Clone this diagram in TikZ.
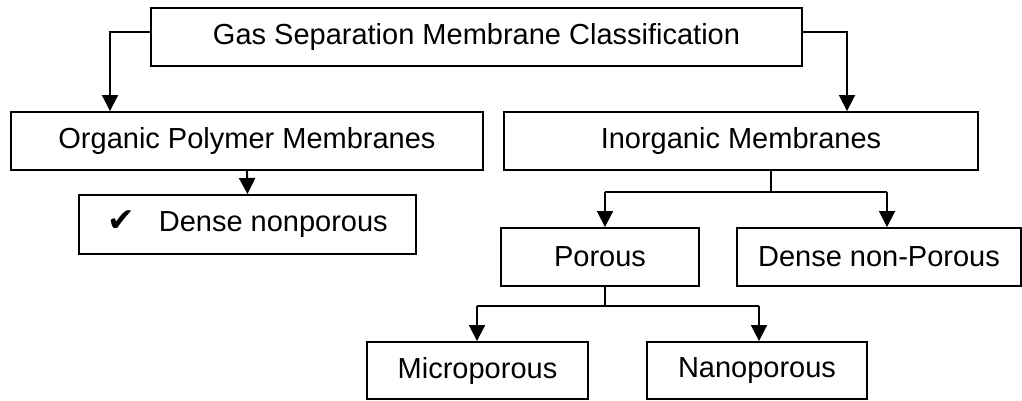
\documentclass[tikz,border=0pt]{standalone}
\usepackage{fontspec}
\setmainfont{Liberation Sans}
\newfontfamily\symfont{DejaVu Sans}
\usetikzlibrary{arrows.meta}
\begin{document}
\begin{tikzpicture}[x=1pt,y=-1pt,
  box/.style={draw,line width=1.9pt,inner sep=0pt,font=\fontsize{29}{34}\selectfont},
  conn/.style={line width=1.9pt},
  arr/.style={conn,-{Triangle[width=16pt,length=16pt]}}]
\useasboundingbox (0,0) rectangle (1022,401);
\node[box,minimum width=651pt,minimum height=58pt] (top) at (476.5,37) {Gas Separation Membrane Classification};
\node[box,minimum width=472pt,minimum height=58pt] (org) at (247,141) {Organic Polymer Membranes};
\node[box,minimum width=474pt,minimum height=58pt] (inorg) at (741,141) {Inorganic Membranes};
\node[box,minimum width=337pt,minimum height=59pt] (dense) at (247.5,224.5) {{\symfont\fontsize{33}{34}\selectfont ✔}\hspace{24pt}Dense nonporous};
\node[box,minimum width=198pt,minimum height=58pt] (porous) at (600,257) {Porous};
\node[box,minimum width=284pt,minimum height=58pt] (dnp) at (879,257) {Dense non-Porous};
\node[box,minimum width=221pt,minimum height=57pt] (micro) at (477.5,370.5) {Microporous};
\node[box,minimum width=220pt,minimum height=57pt] (nano) at (757,370.5) {Nanoporous};
% bend points
\coordinate (tl) at (110,32);
\coordinate (tr) at (847,32);
\coordinate (ij) at (771,192);
\coordinate (il) at (605,192);
\coordinate (ir) at (887,192);
\coordinate (pj) at (605,306);
\coordinate (pl) at (477,306);
\coordinate (pr) at (759,306);
\draw[arr] (top.west |- tl) -- (tl) -- (org.north -| tl);
\draw[arr] (top.east |- tr) -- (tr) -- (inorg.north -| tr);
\draw[arr] (org.south) -- (dense.north);
\draw[conn] (inorg.south -| ij) -- (ij);
\draw[arr] (il) -- (porous.north -| il);
\draw[arr] (ir) -- (dnp.north -| ir);
\draw[conn] (il) -- (ir);
\draw[conn] (porous.south -| pj) -- (pj);
\draw[arr] (pl) -- (micro.north -| pl);
\draw[arr] (pr) -- (nano.north -| pr);
\draw[conn] (pl) -- (pr);
\end{tikzpicture}
\end{document}
